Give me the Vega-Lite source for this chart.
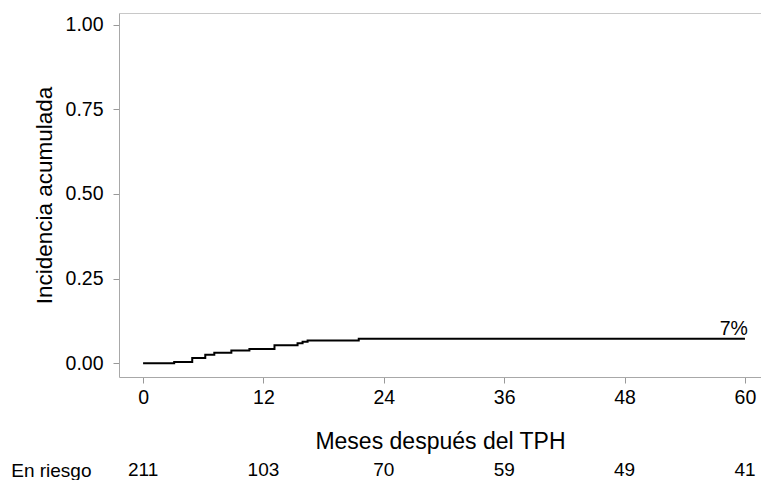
{
  "$schema": "https://vega.github.io/schema/vega-lite/v6.json",
  "padding": {"top": 13, "left": 10, "right": 0, "bottom": 0},
  "background": "white",
  "config": {
    "font": "Liberation Sans",
    "view": {"stroke": null},
    "axis": {
      "grid": false,
      "domainColor": "#a8a8a8",
      "tickColor": "#999999",
      "labelColor": "black",
      "titleColor": "black",
      "labelFont": "Liberation Sans",
      "titleFont": "Liberation Sans",
      "titleFontWeight": "normal"
    }
  },
  "datasets": {
    "cif": [
      {"t": 0, "cif": 0},
      {"t": 3.1, "cif": 0.003},
      {"t": 4.9, "cif": 0.015},
      {"t": 6.2, "cif": 0.025},
      {"t": 7.1, "cif": 0.031},
      {"t": 8.8, "cif": 0.037},
      {"t": 10.6, "cif": 0.042},
      {"t": 13.1, "cif": 0.053},
      {"t": 15.4, "cif": 0.059},
      {"t": 15.9, "cif": 0.063},
      {"t": 16.4, "cif": 0.067},
      {"t": 21.5, "cif": 0.072},
      {"t": 60, "cif": 0.072}
    ],
    "lab": [{"t": 60, "cif": 0.072, "label": "7%"}],
    "risk": [
      {"t": 0, "row": "En riesgo", "n": 211},
      {"t": 12, "row": "En riesgo", "n": 103},
      {"t": 24, "row": "En riesgo", "n": 70},
      {"t": 36, "row": "En riesgo", "n": 59},
      {"t": 48, "row": "En riesgo", "n": 49},
      {"t": 60, "row": "En riesgo", "n": 41}
    ]
  },
  "spacing": 6,
  "vconcat": [
    {
      "width": 642,
      "height": 364,
      "layer": [
        {
          "data": {"name": "cif"},
          "mark": {"type": "line", "interpolate": "step-after", "color": "black", "strokeWidth": 2},
          "encoding": {
            "x": {
              "field": "t", "type": "quantitative",
              "scale": {"domain": [-2.4, 61.6], "nice": false, "zero": false},
              "axis": {
                "orient": "bottom",
                "values": [0, 12, 24, 36, 48, 60],
                "tickSize": 6,
                "labelPadding": 5,
                "labelFontSize": 19.5,
                "title": "Meses después del TPH",
                "titleFontSize": 23,
                "titlePadding": 24
              }
            },
            "y": {
              "field": "cif", "type": "quantitative",
              "scale": {"domain": [-0.041, 1.035], "nice": false, "zero": false},
              "axis": {
                "values": [0, 0.25, 0.5, 0.75, 1],
                "format": ".2f",
                "tickSize": 6,
                "labelPadding": 10,
                "labelFontSize": 19.5,
                "title": "Incidencia acumulada",
                "titleFontSize": 22.5,
                "titlePadding": 9
              }
            }
          }
        },
        {
          "data": {"name": "lab"},
          "mark": {"type": "text", "align": "right", "baseline": "alphabetic", "dx": 3, "dy": -4, "fontSize": 19.5, "color": "black"},
          "encoding": {
            "x": {
              "field": "t", "type": "quantitative",
              "axis": {"orient": "top", "labels": false, "ticks": false, "title": null, "domain": true, "domainColor": "#c8c8c8"}
            },
            "y": {"field": "cif", "type": "quantitative"},
            "text": {"field": "label"}
          }
        }
      ],
      "resolve": {"axis": {"x": "independent"}}
    },
    {
      "width": 642,
      "height": 20,
      "data": {"name": "risk"},
      "mark": {"type": "text", "fontSize": 19, "color": "black"},
      "encoding": {
        "x": {
          "field": "t", "type": "quantitative",
          "scale": {"domain": [-2.4, 61.6], "nice": false, "zero": false},
          "axis": null
        },
        "y": {
          "field": "row", "type": "nominal",
          "axis": {"title": null, "domain": false, "ticks": false, "labelFontSize": 19, "labelPadding": 28, "labelColor": "black"}
        },
        "text": {"field": "n"}
      }
    }
  ]
}
